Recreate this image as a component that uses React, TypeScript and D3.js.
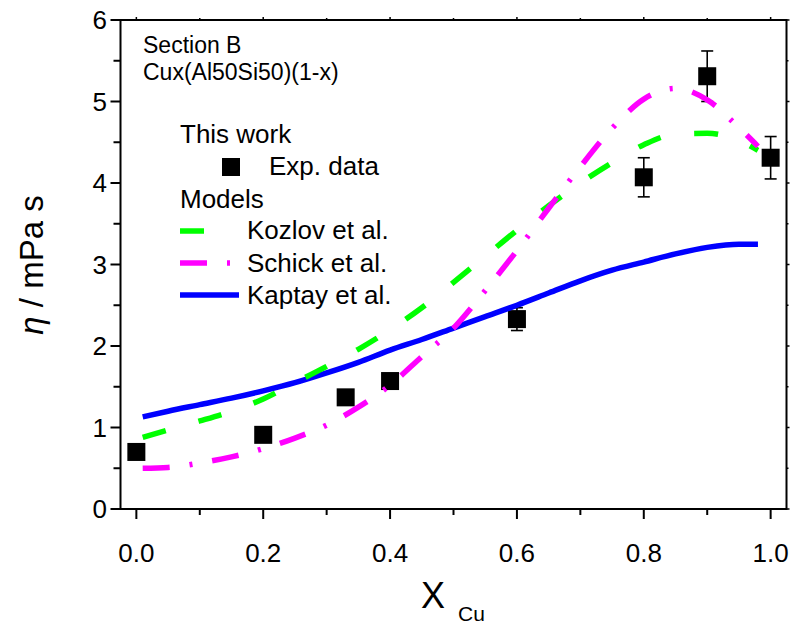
import React from "react";
import * as d3 from "d3";

// Experimental viscosity, Cu_x(Al50Si50)_(1-x), section B
const expX = [0, 0.2, 0.33, 0.4, 0.6, 0.8, 0.9, 1.0];
const expY = [0.7, 0.91, 1.37, 1.57, 2.33, 4.07, 5.31, 4.31];
const expErr = [0.04, 0.05, 0.05, 0.05, 0.14, 0.24, 0.31, 0.26];

// Model curves sampled on a common composition grid
const modelX = [0.01, 0.05, 0.1, 0.15, 0.2, 0.25, 0.3, 0.35, 0.4, 0.45, 0.5, 0.55, 0.6, 0.65, 0.7, 0.75, 0.8, 0.85, 0.9, 0.95, 0.98];
const kozlov = [0.88, 0.97, 1.08, 1.2, 1.35, 1.55, 1.75, 1.96, 2.2, 2.47, 2.78, 3.1, 3.42, 3.72, 4.0, 4.25, 4.47, 4.6, 4.61, 4.52, 4.4];
const schick = [0.5, 0.51, 0.565, 0.64, 0.74, 0.87, 1.03, 1.25, 1.52, 1.87, 2.22, 2.68, 3.17, 3.69, 4.2, 4.67, 5.03, 5.16, 5.02, 4.68, 4.45];
const kaptay = [1.13, 1.2, 1.28, 1.36, 1.45, 1.55, 1.67, 1.8, 1.95, 2.08, 2.22, 2.36, 2.5, 2.65, 2.8, 2.93, 3.03, 3.13, 3.21, 3.25, 3.25];

const xMajor = [0, 0.2, 0.4, 0.6, 0.8, 1.0];
const xMinor = [0.1, 0.3, 0.5, 0.7, 0.9];
const yMajor = [0, 1, 2, 3, 4, 5, 6];
const yMinor = [0.5, 1.5, 2.5, 3.5, 4.5, 5.5];

const FONT = "'Liberation Sans', Arial, sans-serif";
const W = 794;
const H = 626;
const left = 120.5;
const right = 786.5;
const top = 20;
const bottom = 509;

const GREEN = "#00ff00";
const MAGENTA = "#ff00ff";
const BLUE = "#0000ff";
const DASH_KOZLOV = "24 34";
const DASH_SCHICK = "27 20 3 20";
const LW = 5.5;

export default function App() {
  const x = d3.scaleLinear().domain([-0.025, 1.025]).range([left, right]);
  const y = d3.scaleLinear().domain([0, 6]).range([bottom, top]);

  const line = d3
    .line<[number, number]>()
    .x((d) => x(d[0]))
    .y((d) => y(d[1]))
    .curve(d3.curveMonotoneX);

  const pts = (vals: number[]) => modelX.map((v, i) => [v, vals[i]] as [number, number]);

  const sq = 18;

  return (
    <svg
      width={W}
      height={H}
      viewBox={`0 0 ${W} ${H}`}
      style={{ position: "absolute", left: 0, top: 0, background: "#fff" }}
      fontFamily={FONT}
    >
      <rect x={0} y={0} width={W} height={H} fill="#fff" />

      {/* experimental points with error bars */}
      <g>
        {expX.map((xv, i) => {
          const cx = x(xv);
          const y1 = y(expY[i] + expErr[i]);
          const y2 = y(expY[i] - expErr[i]);
          return (
            <g key={i}>
              <line x1={cx} x2={cx} y1={y1} y2={y2} stroke="#000" strokeWidth={1.6} />
              <line x1={cx - 6} x2={cx + 6} y1={y1} y2={y1} stroke="#000" strokeWidth={1.6} />
              <line x1={cx - 6} x2={cx + 6} y1={y2} y2={y2} stroke="#000" strokeWidth={1.6} />
              <rect x={cx - sq / 2} y={y(expY[i]) - sq / 2} width={sq} height={sq} fill="#000" />
            </g>
          );
        })}
      </g>

      {/* model curves */}
      <path d={line(pts(kaptay)) || ""} fill="none" stroke={BLUE} strokeWidth={LW} />
      <path d={line(pts(kozlov)) || ""} fill="none" stroke={GREEN} strokeWidth={LW} strokeDasharray={DASH_KOZLOV} />
      <path d={line(pts(schick)) || ""} fill="none" stroke={MAGENTA} strokeWidth={LW} strokeDasharray={DASH_SCHICK} />

      {/* frame */}
      <rect x={left} y={top} width={right - left} height={bottom - top} fill="none" stroke="#000" strokeWidth={2} />

      {/* bottom axis ticks */}
      {xMajor.map((v) => (
        <g key={"xM" + v}>
          <line x1={x(v)} x2={x(v)} y1={bottom} y2={bottom + 10} stroke="#000" strokeWidth={2} />
          <line x1={x(v)} x2={x(v)} y1={top} y2={top - 3} stroke="#000" strokeWidth={1.5} />
          <text x={x(v)} y={562} fontSize={26} textAnchor="middle" fill="#000">
            {v.toFixed(1)}
          </text>
        </g>
      ))}
      {xMinor.map((v) => (
        <g key={"xm" + v}>
          <line x1={x(v)} x2={x(v)} y1={bottom} y2={bottom + 6} stroke="#000" strokeWidth={2} />
          <line x1={x(v)} x2={x(v)} y1={top} y2={top - 2} stroke="#000" strokeWidth={1.5} />
        </g>
      ))}

      {/* left axis ticks */}
      {yMajor.map((v) => (
        <g key={"yM" + v}>
          <line x1={left} x2={left - 10} y1={y(v)} y2={y(v)} stroke="#000" strokeWidth={2} />
          <line x1={right} x2={right + 3} y1={y(v)} y2={y(v)} stroke="#000" strokeWidth={1.5} />
          <text x={107} y={y(v) + 9} fontSize={26} textAnchor="end" fill="#000">
            {v}
          </text>
        </g>
      ))}
      {yMinor.map((v) => (
        <g key={"ym" + v}>
          <line x1={left} x2={left - 7} y1={y(v)} y2={y(v)} stroke="#000" strokeWidth={2} />
          <line x1={right} x2={right + 2} y1={y(v)} y2={y(v)} stroke="#000" strokeWidth={1.5} />
        </g>
      ))}

      {/* axis titles */}
      <text x={421} y={608} fontSize={36} fill="#000">X</text>
      <text x={458} y={621} fontSize={21} fill="#000">Cu</text>
      <text transform="translate(43,265) rotate(-90)" fontSize={33} textAnchor="middle" fill="#000">
        <tspan fontStyle="italic">η</tspan>
        <tspan> / mPa s</tspan>
      </text>

      {/* annotation */}
      <text x={143} y={53} fontSize={23} fill="#000">Section B</text>
      <text x={143} y={80} fontSize={23} fill="#000">Cux(Al50Si50)(1-x)</text>

      {/* legend */}
      <g fontSize={26} fill="#000">
        <text x={180} y={143}>This work</text>
        <rect x={222} y={158} width={18} height={18} fill="#000" />
        <text x={269} y={175}>Exp. data</text>
        <text x={180} y={208}>Models</text>

        <line x1={180} x2={238} y1={231} y2={231} stroke={GREEN} strokeWidth={LW} strokeDasharray={DASH_KOZLOV} />
        <text x={247} y={239}>Kozlov et al.</text>

        <line x1={180} x2={238} y1={263} y2={263} stroke={MAGENTA} strokeWidth={LW} strokeDasharray={DASH_SCHICK} />
        <text x={247} y={272}>Schick et al.</text>

        <line x1={180} x2={239} y1={295} y2={295} stroke={BLUE} strokeWidth={LW} />
        <text x={247} y={304}>Kaptay et al.</text>
      </g>
    </svg>
  );
}
